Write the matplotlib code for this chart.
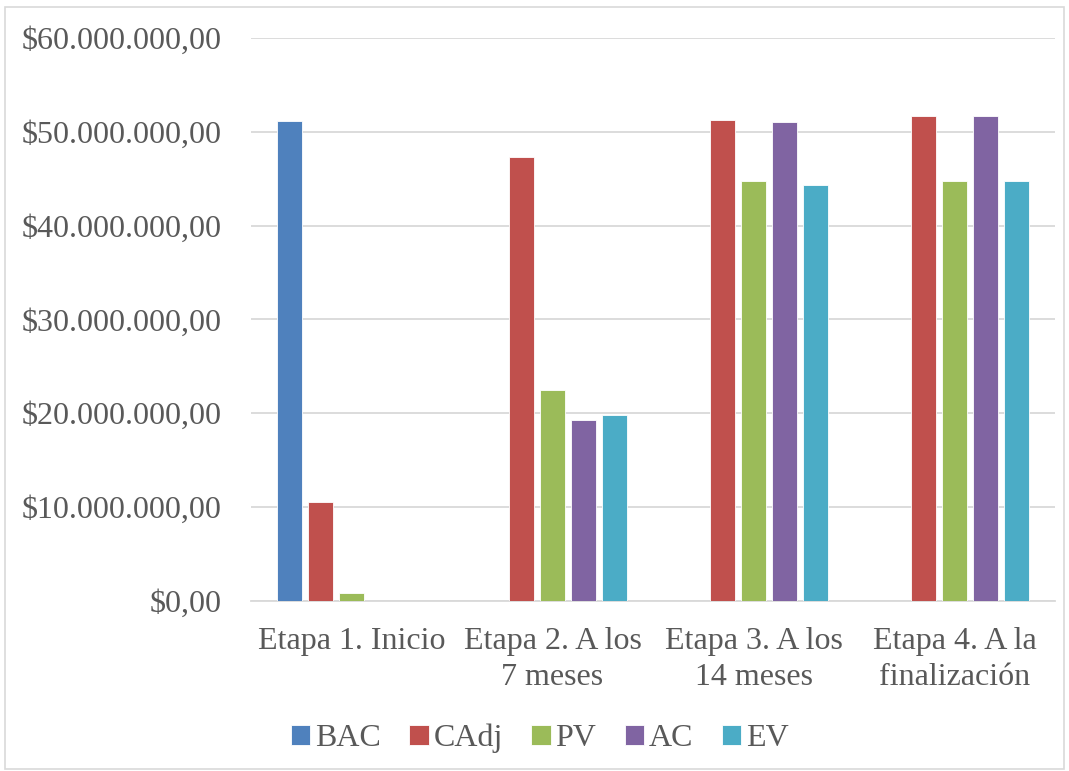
import numpy as np
import matplotlib.pyplot as plt
from matplotlib.patches import Rectangle
from matplotlib.ticker import FuncFormatter

# Earned-value figures per project stage
etapas = ["Etapa 1. Inicio", "Etapa 2. A los\n7 meses", "Etapa 3. A los\n14 meses", "Etapa 4. A la\nfinalización"]
series = ["BAC", "CAdj", "PV", "AC", "EV"]
bac = [51.2e6, 0, 0, 0]
cadj = [10.5e6, 47.35e6, 51.3e6, 51.7e6]
pv = [0.82e6, 22.5e6, 44.7e6, 44.7e6]
ac = [0, 19.25e6, 51.0e6, 51.7e6]
ev = [0, 19.75e6, 44.3e6, 44.8e6]
colores = ["#4F81BD", "#C0504D", "#9BBB59", "#8064A2", "#4BACC6"]

plt.rcParams['font.family'] = ['Liberation Serif', 'DejaVu Serif']
gris = "#595959"

fig = plt.figure(figsize=(10.69, 7.71), dpi=100)
ax = fig.add_axes([0.2348, 0.2209, 0.7522, 0.7298])

x = np.arange(len(etapas))
paso = 31 / 201
ancho = 25 / 201
for i, (nombre, vals, col) in enumerate(zip(series, [bac, cadj, pv, ac, ev], colores)):
    ax.bar(x + (i - 2) * paso, vals, width=ancho, color=col, label=nombre,
           edgecolor="white", linewidth=0.6, zorder=3)

ax.set_xlim(-0.5, len(etapas) - 0.5)
ax.set_ylim(0, 60e6)
ax.set_yticks(np.arange(0, 60e6 + 1, 10e6))

def pesos(v, pos):
    s = f"{v:,.2f}".replace(",", "X").replace(".", ",").replace("X", ".")
    return "$" + s

ax.yaxis.set_major_formatter(FuncFormatter(pesos))
ax.set_xticks(x)
ax.set_xticklabels(etapas, linespacing=1.32)
ax.tick_params(axis="both", length=0, labelsize=23, labelcolor=gris)
ax.tick_params(axis="y", pad=21)
ax.tick_params(axis="x", pad=19)

ax.grid(axis="y", color="#D9D9D9", linewidth=1.3, zorder=0)
for lado in ["top", "right", "left"]:
    ax.spines[lado].set_visible(False)
ax.spines["bottom"].set_color("#D9D9D9")
ax.spines["bottom"].set_linewidth(1.3)

leg = fig.legend(loc="center", bbox_to_anchor=(0.505, 0.042), ncol=5, frameon=False,
                 fontsize=23, handlelength=0.6, handleheight=0.6, handletextpad=0.15,
                 columnspacing=0.9, labelcolor=gris)

# marco exterior del gráfico
fig.patches.append(Rectangle((0.005, 0.003), 0.99, 0.988, transform=fig.transFigure,
                             fill=False, edgecolor="#D9D9D9", linewidth=1.2))

fig.savefig("out.png", dpi=100, facecolor="white")
